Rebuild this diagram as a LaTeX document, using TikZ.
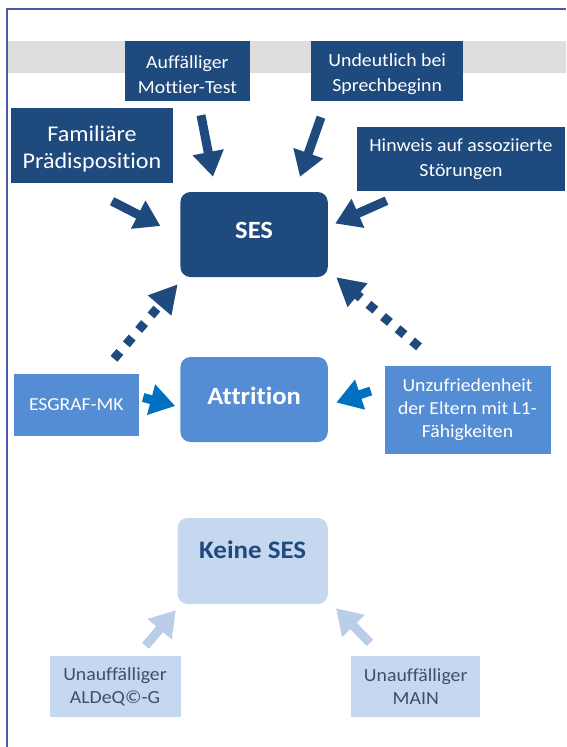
\documentclass[tikz,border=0pt]{standalone}
\usepackage{fontspec}
\setmainfont{Carlito}[FakeStretch=1.07, Ligatures=NoCommon]
\usetikzlibrary{arrows.meta}
\definecolor{navy}{RGB}{30,74,126}
\definecolor{midblue}{RGB}{84,141,212}
\definecolor{arrblue}{RGB}{0,112,192}
\definecolor{paleblue}{RGB}{198,216,239}
\definecolor{palearrow}{RGB}{186,206,232}
\definecolor{paletext}{RGB}{58,80,112}
\definecolor{framec}{RGB}{72,90,168}
\definecolor{bandgray}{RGB}{222,222,222}
\tikzset{
  box/.style={rectangle, inner sep=2pt, align=center, text=white,
    font=\fontsize{18.5}{25}\selectfont},
  darkbox/.style={box, fill=navy},
  midbox/.style={box, fill=midblue},
  palebox/.style={box, fill=paleblue, text=paletext, font=\fontsize{18.5}{23}\selectfont},
  bigbox/.style={rectangle, rounded corners=10pt, minimum width=147.3pt, minimum height=85pt,
    align=center, font=\fontsize{24.8}{30}\selectfont\bfseries, text=white},
  blk/.style={line width=9pt, -{Triangle[length=25pt,width=30pt]}},
  dotblk/.style={line width=9pt, dash pattern=on 9pt off 10pt, -{Triangle[length=28pt,width=29pt]}},
}
\begin{document}
\begin{tikzpicture}[x=1pt,y=-1pt]
\useasboundingbox (0,0) rectangle (566,747);
% gray band and frame
\fill[bandgray] (8,41) rectangle (566,73);
\draw[framec, line width=1.6pt] (7,747) -- (7,9) -- (566,9);
% top boxes
\node[darkbox, minimum width=125.7pt, minimum height=60pt] (mot) at (187.4,71) {\rule{0pt}{19.5pt}Auffälliger\\Mottier-Test};
\node[darkbox, minimum width=152pt, minimum height=60pt] (und) at (387.2,71) {\rule{0pt}{19.5pt}Undeutlich bei\\Sprechbeginn};
\node[darkbox, minimum width=162.5pt, minimum height=75pt, font=\fontsize{22.5}{26.5}\selectfont] (fam) at (92,145.5) {\rule{0pt}{23pt}Familiäre\\Prädisposition};
\node[darkbox, minimum width=208.6pt, minimum height=64pt] (hin) at (461,159) {Hinweis auf assoziierte\\Störungen};
% central boxes
\node[bigbox, fill=navy, text depth=8pt] (ses) at (254.1,234.5) {SES};
\node[bigbox, fill=midblue, text depth=8pt] (att) at (254.1,399.5) {Attrition};
\node[midbox, minimum width=125.3pt, minimum height=62pt, font=\fontsize{18.3}{23}\selectfont] (esg) at (76.3,405) {ESGRAF-MK};
\node[midbox, minimum width=166pt, minimum height=88pt, font=\fontsize{18.4}{23}\selectfont] (unz) at (467.5,410) {Unzufriedenheit\\der Eltern mit L1-\\Fähigkeiten};
% bottom
\node[bigbox, fill=paleblue, text=navy, minimum width=150.2pt, minimum height=86pt, text depth=22pt, font=\fontsize{25.2}{30}\selectfont\bfseries] (kes) at (252.7,561) {Keine SES};
\node[palebox, minimum width=131pt, minimum height=61pt] (ald) at (115,686.5) {Unauffälliger\\ALDeQ©-G};
\node[palebox, minimum width=129.5pt, minimum height=61pt] (mai) at (415.7,686.5) {Unauffälliger\\MAIN};
% arrows to SES
\draw[blk, navy] ([shift={(13.6,14)}]mot.south) -- ([shift={(-41.1,-15)}]ses.north);
\draw[blk, navy] ([shift={(-66.2,16)}]und.south) -- ([shift={(45.9,-15)}]ses.north);
\draw[blk, navy] ([shift={(20,18)}]fam.south) -- ([shift={(-19.8,-8.5)}]ses.west);
\draw[blk, navy] ([shift={(-74.5,9.5)}]hin.south) -- ([shift={(7.2,-11)}]ses.east);
\draw[dotblk, navy] ([shift={(37.7,-15)}]esg.north) -- ([shift={(-2.5,7)}]ses.south west);
\draw[dotblk, navy] ([shift={(-48.5,-19)}]unz.north) -- ([shift={(8.2,0)}]ses.south east);
% arrows to Attrition
\draw[blk, arrblue] ([shift={(4,-7.5)}]esg.east) -- ([shift={(-5,6.5)}]att.west);
\draw[blk, arrblue] ([shift={(-13.5,-19)}]unz.west) -- ([shift={(8.4,3)}]att.east);
% arrows to Keine SES
\draw[blk, palearrow] ([shift={(30.5,-10)}]ald.north) -- ([shift={(-1.6,6)}]kes.south west);
\draw[blk, palearrow] ([shift={(-45.7,-13)}]mai.north) -- ([shift={(7.9,4)}]kes.south east);
\end{tikzpicture}
\end{document}
